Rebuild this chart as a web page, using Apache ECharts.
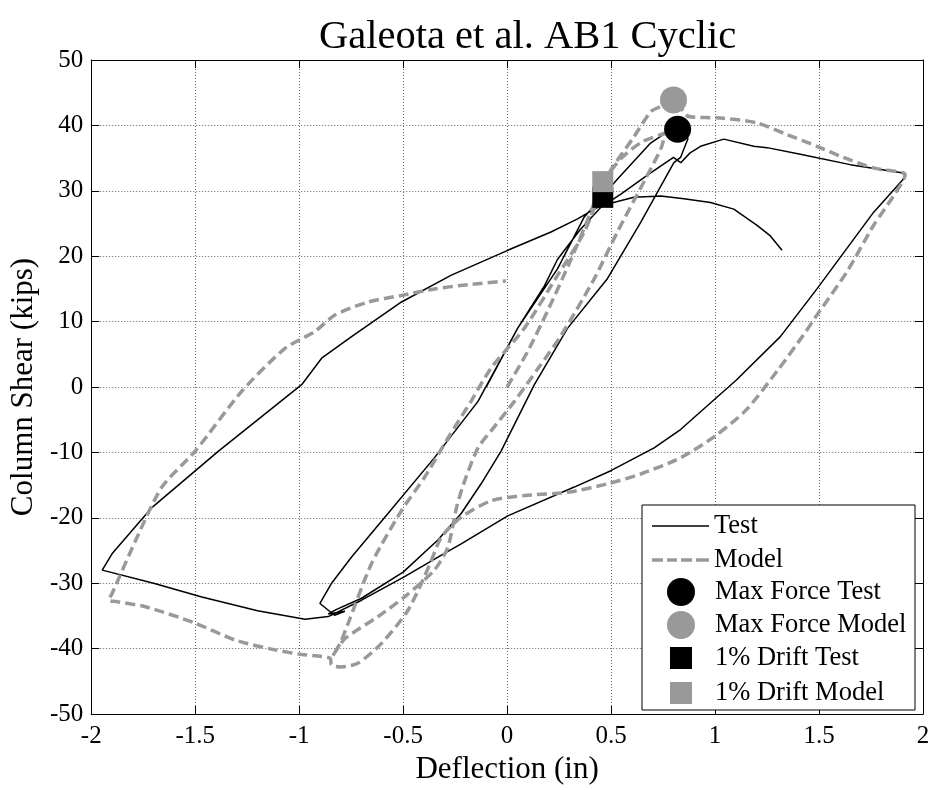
<!DOCTYPE html>
<html><head><meta charset="utf-8">
<script src="https://cdn.jsdelivr.net/npm/echarts@6/dist/echarts.min.js"></script>
<style>html,body{margin:0;padding:0;background:#fff}#c{width:934px;height:790px}</style>
</head><body><div id="c"></div>
<script>
// ---- data (deflection in inches, column shear in kips) ----
const xTickMin = -2, xTickMax = 2, xTickStep = 0.5;
const yTickMin = -50, yTickMax = 50, yTickStep = 10;

const testX = [-0.1,0.051,0.243,0.371,0.531,0.69,0.75,0.82,0.87,
  0.834,0.802,0.643,0.483,0.291,0.131,-0.029,-0.125,-0.22,-0.333,-0.5,-0.7,-0.82,-0.86,
  -0.78,-0.83,-0.9,
  -0.844,-0.748,-0.588,-0.349,-0.14,0.051,0.18,0.242,0.35,0.451,0.547,0.68,0.8,0.835,
  0.88,0.93,1.042,1.186,1.25,1.41,1.65,1.89,1.914,
  1.906,1.762,1.49,1.314,1.1,0.834,0.707,0.499,0.323,0.003,-0.221,-0.316,-0.493,-0.70,-0.86,-0.972,-1.2,-1.468,-1.7,-1.947,-1.95,
  -1.9,-1.707,-1.388,-0.988,-0.892,-0.748,-0.508,-0.268,0.003,0.211,0.339,0.419,0.451,0.61,0.739,0.85,0.978,1.09,1.202,1.266,1.322];
const testY = [0,9,18.1,26,31.8,37.3,38.6,39.4,38,
  35.1,34.3,25.2,16.6,9,0.35,-9.8,-14.8,-19.3,-23.4,-28.3,-32.3,-34,-34.7,
  -34.3,-34.9,-33.1,
  -30,-26,-19.9,-10.8,-2.2,9,15.5,19.5,24,27.5,29.5,32.5,35.1,34.3,
  35.8,36.8,37.9,36.8,36.6,35.6,34,32.8,32.5,
  31.8,26.7,15,7.7,1,-6.5,-9.3,-12.8,-15.3,-19.7,-24,-25.7,-29,-32.6,-35.1,-35.5,-34.2,-32.1,-30,-28,-27.8,
  -25.5,-18.4,-9.8,0.35,4.4,7.7,13,17.1,20.9,23.7,25.7,27.2,27.7,29,29.2,28.8,28.2,27.2,24.7,23.1,20.9];

const modelX = [0,0.1,0.2,0.3,0.38,0.46,0.55,0.65,0.76,
  0.74,0.66,0.53,0.42,0.26,0.15,0.035,-0.077,-0.14,-0.2,-0.24,-0.285,-0.35,-0.49,-0.62,-0.78,-0.84,
  -0.8,-0.764,-0.652,-0.508,-0.397,-0.284,-0.17,-0.077,0.083,0.243,0.371,0.483,0.611,0.691,0.739,0.8,0.87,0.95,1.04,1.2,1.346,1.49,1.618,1.762,1.898,1.914,
  1.858,1.762,1.634,1.49,1.426,1.3,1.15,1.0,0.835,0.643,0.483,0.291,0.083,-0.077,-0.221,-0.317,-0.37,-0.476,-0.604,-0.716,-0.8,-0.845,-0.85,
  -0.892,-0.988,-1.116,-1.308,-1.5,-1.74,-1.88,-1.916,
  -1.9,-1.787,-1.66,-1.5,-1.276,-1.068,-0.924,-0.828,-0.668,-0.508,-0.349,-0.188,-0.006];
const modelY = [0,5.5,12,19,25,31.2,35,37.5,38.8,
  36.5,31.5,23.7,16.6,7.9,2.9,-2.2,-6.7,-9.3,-14,-18,-24.5,-28,-32,-35.1,-38.5,-41.2,
  -39,-36.1,-27,-18.9,-13.8,-7.8,-2,2.9,9,17.1,23.7,32.3,38.3,42.1,42.9,43.9,41.4,41.2,41.1,40.4,38.6,36.8,35.1,33.5,32.8,32.5,
  29.2,24.7,17.6,11,8,2.5,-3.5,-7.5,-10.8,-13.3,-14.8,-16.1,-16.6,-17.4,-19.9,-23,-27,-34.1,-39.2,-42.2,-42.8,-42.5,-41.5,
  -41.2,-40.9,-40.2,-38.7,-36.1,-33.6,-32.8,-32.6,
  -31.6,-23.5,-15.3,-9.8,-0.65,5.9,8.5,11,13,14,15,15.65,16.2];

const maxForceTest = [0.82, 39.4];
const maxForceModel = [0.8, 43.9];
const driftTest = [0.46, 29.0];
const driftModel = [0.46, 31.4];

const seriesNames = ['Test','Model','Max Force Test','Max Force Model','1% Drift Test','1% Drift Model'];
const titleText = 'Galeota et al. AB1 Cyclic';
const xName = 'Deflection (in)';
const yName = 'Column Shear (kips)';

// ---- chart ----
const zip = (xs, ys) => xs.map((x, i) => [x, ys[i]]);
const F = '"Liberation Serif","Times New Roman",serif';
const GRAY = '#999999';
const chart = echarts.init(document.getElementById('c'));

const baseAxis = {
  type: 'value',
  axisLine: { show: true, onZero: false, lineStyle: { color: '#000', width: 1 } },
  axisTick: { show: true, inside: true, length: 8, lineStyle: { color: '#000' } },
};
const legText = (pad) => ({ fontFamily: F, fontSize: 26.5, color: '#000', lineHeight: 28, padding: [0, 0, 0, pad] });
const solidIcon = 'path://M0,0h57v1.5h-57z';
const dashIcon = 'path://M0,0h11v3.5h-11z M15,0h10v3.5h-10z M29,0h11v3.5h-11z M44,0h13v3.5h-13z';

chart.setOption({
  animation: false,
  backgroundColor: '#fff',
  title: { text: titleText, left: 314, top: 12,
    textStyle: { fontFamily: F, fontSize: 40.5, fontWeight: 'normal', color: '#000' } },
  grid: { left: 89, top: 60, right: 11, bottom: 72, containLabel: false },
  xAxis: [
    Object.assign({}, baseAxis, { min: xTickMin, max: xTickMax, interval: xTickStep, position: 'bottom',
      axisLabel: { color: '#000', fontFamily: F, fontSize: 25, margin: 10 },
      splitLine: { show: true, lineStyle: { color: '#666', type: [1, 2], width: 1 } },
      name: xName, nameLocation: 'middle', nameGap: 40,
      nameTextStyle: { fontFamily: F, fontSize: 31, color: '#000', verticalAlign: 'top' } }),
    Object.assign({}, baseAxis, { min: xTickMin, max: xTickMax, interval: xTickStep, position: 'top',
      axisLabel: { show: false }, splitLine: { show: false } })
  ],
  yAxis: [
    Object.assign({}, baseAxis, { min: yTickMin, max: yTickMax, interval: yTickStep, position: 'left',
      axisLabel: { color: '#000', fontFamily: F, fontSize: 25, margin: 8 },
      splitLine: { show: true, lineStyle: { color: '#666', type: [1, 2], width: 1 } },
      name: yName, nameLocation: 'middle', nameGap: 48,
      nameTextStyle: { fontFamily: F, fontSize: 31, color: '#000' } }),
    Object.assign({}, baseAxis, { min: yTickMin, max: yTickMax, interval: yTickStep, position: 'right',
      axisLabel: { show: false }, splitLine: { show: false } })
  ],
  graphic: [{ type: 'rect', z: 3, shape: { x: 642, y: 505, width: 273, height: 205 },
    style: { fill: '#fff', stroke: '#000', lineWidth: 1 } }],
  legend: [
    { data: [{ name: seriesNames[0], icon: solidIcon }, { name: seriesNames[1], icon: dashIcon }],
      orient: 'vertical', left: 652, top: 512, z: 5, padding: 0,
      itemWidth: 57, itemHeight: 27, itemGap: 6, selectedMode: false, textStyle: legText(0) },
    { data: [seriesNames[2], seriesNames[3]], orient: 'vertical', left: 667, top: 578, z: 5, padding: 0,
      itemWidth: 28, itemHeight: 28, itemGap: 5, selectedMode: false, textStyle: legText(15) },
    { data: [seriesNames[4], seriesNames[5]], orient: 'vertical', left: 670, top: 644, z: 5, padding: 0,
      itemWidth: 22, itemHeight: 22, itemGap: 7, selectedMode: false, textStyle: legText(18) }
  ],
  series: [
    { name: seriesNames[0], type: 'line', data: zip(testX, testY), symbol: 'none', showSymbol: false,
      lineStyle: { color: '#000', width: 1.5 }, itemStyle: { color: '#000' }, z: 2 },
    { name: seriesNames[1], type: 'line', data: zip(modelX, modelY), symbol: 'none', showSymbol: false,
      smooth: 0.25,
      lineStyle: { color: GRAY, width: 3.5, type: [10, 5] }, itemStyle: { color: GRAY }, z: 2 },
    { name: seriesNames[2], type: 'scatter', data: [maxForceTest], symbol: 'circle', symbolSize: 27,
      itemStyle: { color: '#000', opacity: 1 }, z: 3, clip: false },
    { name: seriesNames[3], type: 'scatter', data: [maxForceModel], symbol: 'circle', symbolSize: 27,
      itemStyle: { color: GRAY, opacity: 1 }, z: 3, clip: false },
    { name: seriesNames[4], type: 'scatter', data: [driftTest], symbol: 'rect', symbolSize: 21,
      itemStyle: { color: '#000', opacity: 1 }, z: 3, clip: false },
    { name: seriesNames[5], type: 'scatter', data: [driftModel], symbol: 'rect', symbolSize: 21,
      itemStyle: { color: GRAY, opacity: 1 }, z: 3, clip: false }
  ]
});
</script></body></html>
